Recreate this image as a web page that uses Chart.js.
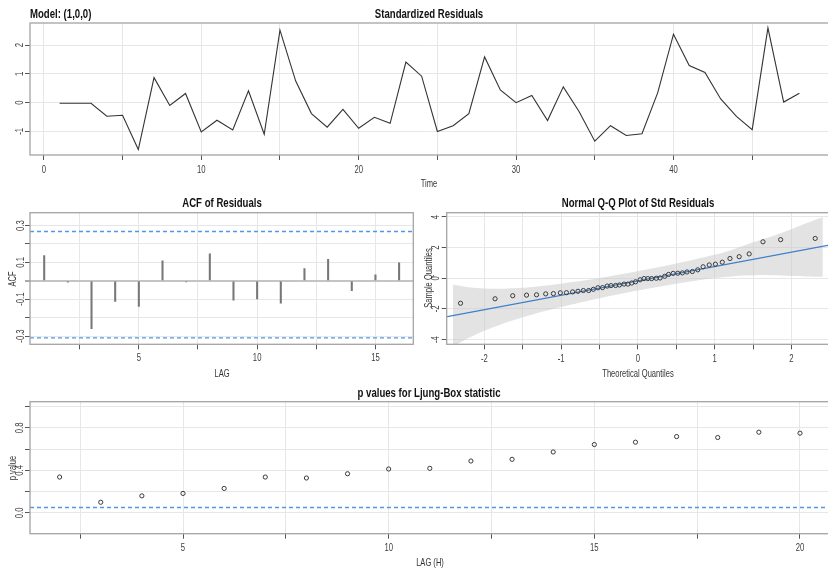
<!DOCTYPE html>
<html>
<head>
<meta charset="utf-8">
<title>Residual diagnostics</title>
<script src="https://cdn.jsdelivr.net/npm/chart.js@4.4.1/dist/chart.umd.min.js"></script>
<style>
  html, body { margin: 0; padding: 0; background: #fff; }
  body {
    width: 828px; height: 568px; position: relative; overflow: hidden;
    font-family: "Liberation Sans", Arial, sans-serif;
  }
  canvas { position: absolute; }
  .ttl, .ax {
    position: absolute; z-index: 2; white-space: nowrap;
  }
  .ttl {
    font-weight: bold; font-size: 12px; line-height: 14px; color: #111;
    transform: translate(-50%, -50%) scaleX(0.8);
  }
  .ttl.left { transform-origin: left center; transform: translateY(-50%) scaleX(0.8); }
  .ax {
    font-size: 10.5px; line-height: 12px; color: #333;
    transform: translate(-50%, -50%) scaleX(0.72);
  }
  .ax.rot { transform: translate(-50%, -50%) rotate(-90deg) scaleX(0.72); }
</style>
</head>
<body>
<div class="ttl left" style="left:30px;top:14px">Model: (1,0,0)</div>
<div class="ttl" style="left:429px;top:14px">Standardized Residuals</div>
<div class="ttl" style="left:222px;top:203px">ACF of Residuals</div>
<div class="ttl" style="left:638px;top:203px">Normal Q-Q Plot of Std Residuals</div>
<div class="ttl" style="left:429px;top:393px">p values for Ljung-Box statistic</div>

<div class="ax" style="left:429px;top:183px">Time</div>
<div class="ax" style="left:222px;top:372.7px">LAG</div>
<div class="ax rot" style="left:12.2px;top:279px">ACF</div>
<div class="ax" style="left:638px;top:372.5px">Theoretical Quantiles</div>
<div class="ax rot" style="left:427.7px;top:278.3px">Sample Quantiles</div>
<div class="ax" style="left:429.5px;top:561.7px">LAG (H)</div>
<div class="ax rot" style="left:12px;top:467.5px">p value</div>

<canvas id="resid" width="840" height="190" style="left:0;top:0"></canvas>
<canvas id="acf" width="420" height="190" style="left:0;top:190px"></canvas>
<canvas id="qq" width="420" height="190" style="left:420px;top:190px"></canvas>
<canvas id="lb" width="840" height="188" style="left:0;top:380px"></canvas>

<script>
"use strict";

// standardized residuals, t = 1..48
const residuals = [-0.02, -0.02, -0.02, -0.47, -0.44, -1.63, 0.87, -0.10, 0.32, -1.02,
  -0.61, -0.95, 0.41, -1.10, 2.52, 0.75, -0.38, -0.85, -0.23, -0.89,
  -0.51, -0.72, 1.41, 0.92, -1.00, -0.80, -0.38, 1.59, 0.44, 0.00,
  0.25, -0.62, 0.55, -0.31, -1.34, -0.80, -1.14, -1.08, 0.35, 2.38,
  1.29, 1.05, 0.13, -0.48, -0.94, 2.60, 0.02, 0.33];

// ACF of residuals, lag 1..16, and its bounds
const acfVals = [0.137, -0.007, -0.26, -0.112, -0.139, 0.108, -0.005, 0.146,
  -0.105, -0.099, -0.121, 0.067, 0.116, -0.054, 0.033, 0.098];
const acfBounds = [-0.31, 0.268];

// normal quantiles for the Q-Q plot
const theoQ = [-2.31, -1.86, -1.63, -1.45, -1.32, -1.20, -1.10, -1.01, -0.93, -0.85,
  -0.78, -0.71, -0.64, -0.58, -0.52, -0.46, -0.40, -0.35, -0.29, -0.24,
  -0.18, -0.13, -0.08, -0.03, 0.03, 0.08, 0.13, 0.18, 0.24, 0.29,
  0.35, 0.40, 0.46, 0.52, 0.58, 0.64, 0.71, 0.78, 0.85, 0.93,
  1.01, 1.10, 1.20, 1.32, 1.45, 1.63, 1.86, 2.31];
const qqLineX = [-2.5, 2.5];
const qqLineY = [-2.52, 2.18];
const bandX  = [-2.41, -2.2, -2, -1.75, -1.5, -1.25, -1, -0.5, 0, 0.5, 1, 1.25, 1.5, 1.75, 2, 2.2, 2.41];
const bandLo = [-4.47, -3.89, -3.43, -2.95, -2.55, -2.19, -1.87, -1.30, -0.80, -0.36, 0.01, 0.14, 0.2, 0.2, 0.15, 0.12, 0.1];
const bandHi = [-0.40, -0.59, -0.67, -0.68, -0.62, -0.50, -0.35, 0.02, 0.46, 0.96, 1.53, 1.9, 2.35, 2.75, 3.2, 3.6, 4.0];

// Ljung-Box p values, lag 2..20
const pValues = [0.337, 0.10, 0.16, 0.183, 0.23, 0.337, 0.328, 0.368, 0.413, 0.419,
  0.488, 0.504, 0.573, 0.643, 0.665, 0.718, 0.709, 0.759, 0.75];
const lbLevel = 0.05;

// tick positions (each gets a grid line) and the labelled ones
const residXTicks = [0, 5, 10, 15, 20, 25, 30, 35, 40, 45];
const residXLabels = [0, 10, 20, 30, 40];
const residYTicks = [-1, 0, 1, 2];
const acfXTicks = [2.5, 5, 7.5, 10, 12.5, 15];
const acfXLabels = [5, 10, 15];
const acfYTicks = [-0.3, -0.2, -0.1, 0, 0.1, 0.2, 0.3];
const acfYLabels = ["-0.3", "", "-0.1", "", "0.1", "", "0.3"];
const qqXTicks = [-2, -1.5, -1, -0.5, 0, 0.5, 1, 1.5, 2];
const qqXLabels = [-2, -1, 0, 1, 2];
const qqYTicks = [-4, -2, 0, 2, 4];
const lbXTicks = [2.5, 5, 7.5, 10, 12.5, 15, 17.5, 20];
const lbXLabels = [5, 10, 15, 20];
const lbYTicks = [0, 0.2, 0.4, 0.6, 0.8, 1.0];
const lbYLabels = ["0.0", "", "0.4", "", "0.8", ""];

const FONT = '"Liberation Sans", Arial, sans-serif';
const SQUEEZE = 0.7; // narrow look of the tick text
const GRID = "#e7e7e7";
const TICKCOL = "#555";
const TEXTCOL = "#3c3c3c";
const BLUE = "#4f98e3";

Chart.defaults.font.family = FONT;
Chart.defaults.font.size = 10;
Chart.defaults.color = TEXTCOL;
Chart.defaults.animation = false;
Chart.defaults.plugins.legend.display = false;
Chart.defaults.plugins.tooltip.enabled = false;

// grey frame round the plotting region
const boxPlugin = {
  id: "box",
  afterDraw(chart) {
    const a = chart.chartArea;
    const ctx = chart.ctx;
    ctx.save();
    ctx.strokeStyle = "#a4a4a4";
    ctx.lineWidth = 1.3;
    ctx.strokeRect(a.left, a.top, a.right - a.left, a.bottom - a.top);
    ctx.restore();
  }
};

function squeezedText(ctx, txt, x, y, rot) {
  ctx.save();
  ctx.translate(x, y);
  if (rot) ctx.rotate(rot);
  ctx.scale(SQUEEZE, 1);
  ctx.fillText(txt, 0, 0);
  ctx.restore();
}

// tick labels: x under the frame, y written upwards like base R graphics
const tickLabelPlugin = {
  id: "tickLabels",
  afterDraw(chart, args, opts) {
    const ctx = chart.ctx;
    const xs = chart.scales.x;
    const ys = chart.scales.y;
    const yPos = chart.chartArea.bottom + opts.xOff;
    ctx.save();
    ctx.font = "11px " + FONT;
    ctx.fillStyle = TEXTCOL;
    ctx.textAlign = "center";
    ctx.textBaseline = "middle";
    opts.xValues.forEach((v) => squeezedText(ctx, String(v), xs.getPixelForValue(v), yPos));
    opts.yValues.forEach((v, i) => {
      const txt = opts.yLabels ? opts.yLabels[i] : String(v);
      if (txt) squeezedText(ctx, txt, opts.yX, ys.getPixelForValue(v), -Math.PI / 2);
    });
    ctx.restore();
  }
};

function axis(min, max, ticks, size, horizontal, gridColor, gridWidth) {
  return {
    type: "linear", min: min, max: max, offset: false,
    afterBuildTicks: (s) => { s.ticks = ticks.map((v) => ({ value: v })); },
    afterFit: (s) => { if (horizontal) s.height = size; else s.width = size; },
    ticks: { display: false },
    grid: {
      color: gridColor || GRID, lineWidth: gridWidth || 1, offset: false,
      tickLength: 5, tickColor: TICKCOL, tickWidth: 1
    },
    border: { display: false }
  };
}

// Standardized residuals
new Chart(document.getElementById("resid"), {
  type: "line",
  data: {
    datasets: [{
      data: residuals.map((v, i) => ({ x: i + 1, y: v })),
      borderColor: "#333", borderWidth: 1.1, pointRadius: 0, tension: 0
    }]
  },
  options: {
    responsive: false, devicePixelRatio: 1,
    layout: { padding: { left: 0, top: 23, right: 11, bottom: 0 } },
    scales: {
      x: axis(-0.88, 49.88, residXTicks, 35, true),
      y: axis(-1.82, 2.77, residYTicks, 30, false)
    },
    plugins: {
      tickLabels: { xValues: residXLabels, xOff: 15, yValues: residYTicks, yX: 20 }
    }
  },
  plugins: [boxPlugin, tickLabelPlugin]
});

// ACF of residuals
const acfRange = [0.4, 16.6];
const isZero = (c) => c.tick && Math.abs(c.tick.value) < 1e-9;
new Chart(document.getElementById("acf"), {
  type: "scatter",
  data: {
    datasets: [
      {
        type: "bar", order: 0,
        data: acfVals.map((v, i) => ({ x: i + 1, y: v })),
        backgroundColor: "#777", borderWidth: 0, barThickness: 1.4, grouped: false
      },
      ...acfBounds.map((b) => ({
        type: "line", order: 1,
        data: acfRange.map((x) => ({ x: x, y: b })),
        borderColor: BLUE, borderWidth: 1.4, borderDash: [4, 3], pointRadius: 0
      }))
    ]
  },
  options: {
    responsive: false, devicePixelRatio: 1,
    layout: { padding: { left: 0, top: 22.7, right: 6.7, bottom: 0 } },
    scales: {
      x: axis(acfRange[0], acfRange[1], acfXTicks, 35.7, true),
      y: axis(-0.345, 0.37, acfYTicks, 30, false,
        (c) => (isZero(c) ? "#c4c4c4" : GRID),
        (c) => (isZero(c) ? 2 : 1))
    },
    plugins: {
      tickLabels: { xValues: acfXLabels, xOff: 14, yValues: acfYTicks, yLabels: acfYLabels, yX: 20.7 }
    }
  },
  plugins: [boxPlugin, tickLabelPlugin]
});

// Normal Q-Q plot
const sampleQ = residuals.slice().sort((a, b) => a - b);
new Chart(document.getElementById("qq"), {
  type: "scatter",
  data: {
    datasets: [
      {
        order: 0,
        data: sampleQ.map((v, i) => ({ x: theoQ[i], y: v })),
        pointStyle: "circle", pointRadius: 2.1, borderWidth: 1,
        borderColor: "#3a3a3a", backgroundColor: "rgba(0,0,0,0)"
      },
      {
        type: "line", order: 1,
        data: qqLineX.map((x, i) => ({ x: x, y: qqLineY[i] })),
        borderColor: "#3d7fcc", borderWidth: 1.2, pointRadius: 0
      },
      {
        type: "line", order: 3,
        data: bandX.map((x, i) => ({ x: x, y: bandLo[i] })),
        borderWidth: 0, pointRadius: 0, fill: false, tension: 0.3
      },
      {
        type: "line", order: 2,
        data: bandX.map((x, i) => ({ x: x, y: bandHi[i] })),
        borderWidth: 0, pointRadius: 0, fill: 2, tension: 0.3,
        backgroundColor: "rgba(200,200,200,0.5)"
      }
    ]
  },
  options: {
    responsive: false, devicePixelRatio: 1,
    layout: { padding: { left: 0, top: 22.7, right: 11, bottom: 0 } },
    scales: {
      x: axis(-2.49, 2.49, qqXTicks, 35.7, true),
      y: axis(-4.31, 4.28, qqYTicks, 26.7, false)
    },
    plugins: {
      tickLabels: { xValues: qqXLabels, xOff: 14.7, yValues: qqYTicks, yX: 16 }
    }
  },
  plugins: [boxPlugin, tickLabelPlugin]
});

// Ljung-Box p values
const lbRange = [1.28, 20.72];
new Chart(document.getElementById("lb"), {
  type: "scatter",
  data: {
    datasets: [
      {
        order: 0,
        data: pValues.map((v, i) => ({ x: i + 2, y: v })),
        pointStyle: "circle", pointRadius: 2.1, borderWidth: 1,
        borderColor: "#3a3a3a", backgroundColor: "rgba(0,0,0,0)"
      },
      {
        type: "line", order: 1,
        data: lbRange.map((x) => ({ x: x, y: lbLevel })),
        borderColor: BLUE, borderWidth: 1.4, borderDash: [4, 3], pointRadius: 0
      }
    ]
  },
  options: {
    responsive: false, devicePixelRatio: 1,
    layout: { padding: { left: 0, top: 21.7, right: 10.4, bottom: 0 } },
    scales: {
      x: axis(lbRange[0], lbRange[1], lbXTicks, 34.3, true),
      y: axis(-0.196, 1.046, lbYTicks, 30, false)
    },
    plugins: {
      tickLabels: { xValues: lbXLabels, xOff: 14.6, yValues: lbYTicks, yLabels: lbYLabels, yX: 20 }
    }
  },
  plugins: [boxPlugin, tickLabelPlugin]
});
</script>
</body>
</html>
